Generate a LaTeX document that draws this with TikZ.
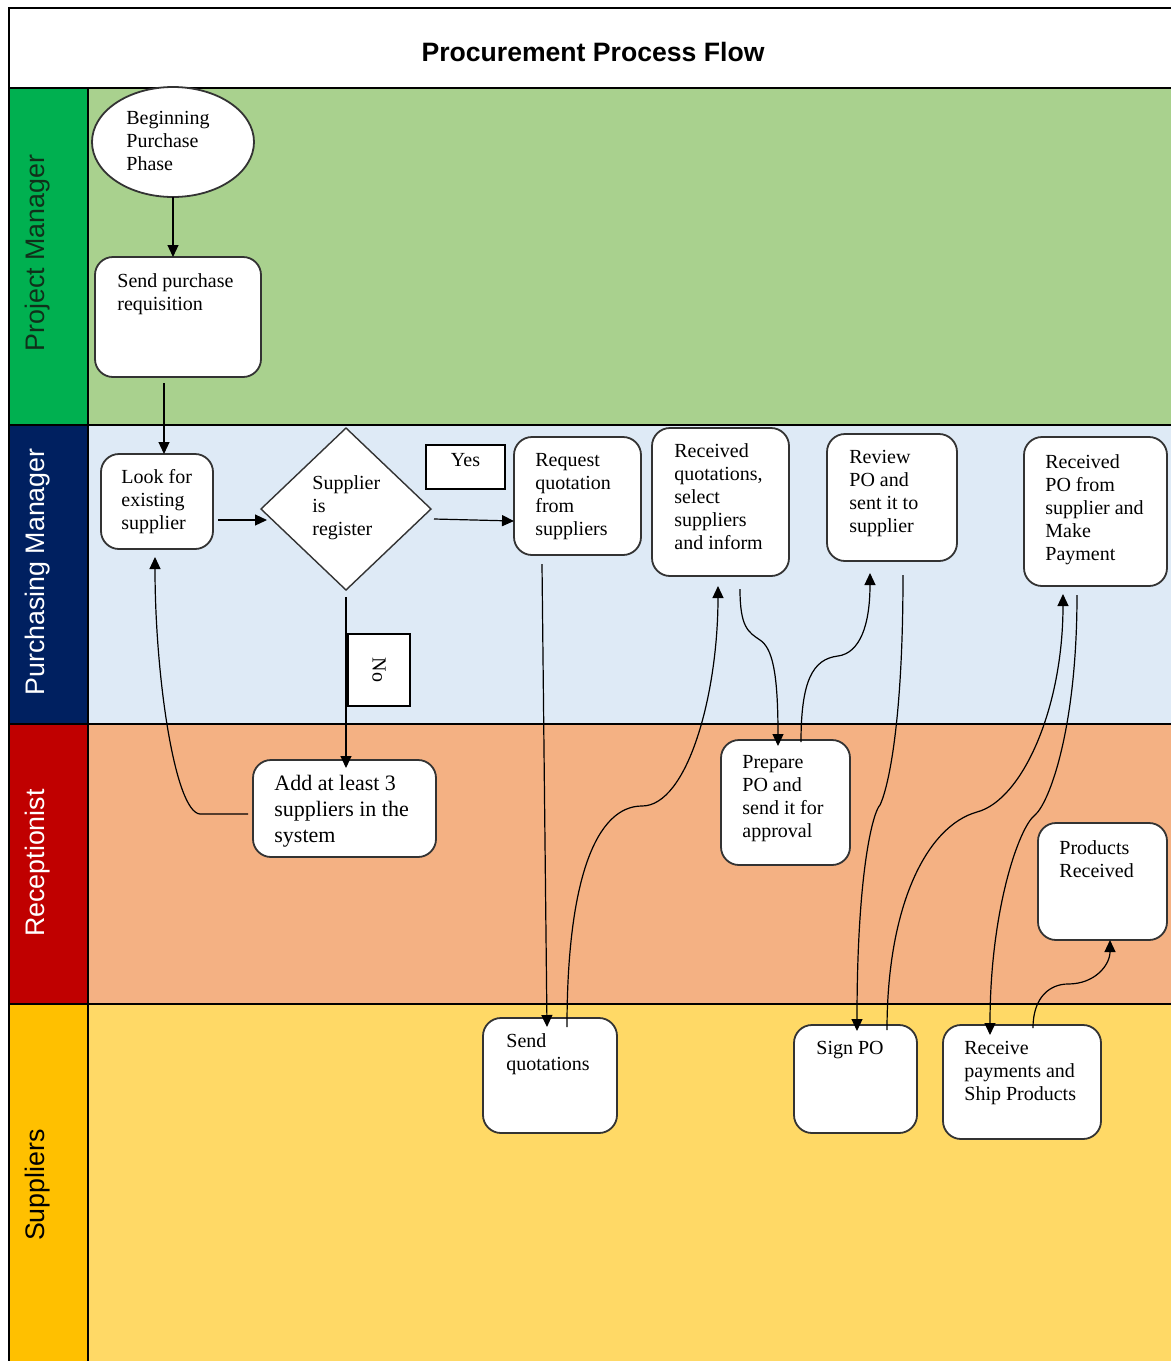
\documentclass[tikz,border=0pt]{standalone}
\usepackage{fontspec}
\setmainfont{Liberation Serif}
\newfontfamily\lanefont{Liberation Sans}
\usetikzlibrary{arrows.meta,calc,fit,shapes.geometric}

\definecolor{pmLabel}{HTML}{00B050}
\definecolor{pmLane}{HTML}{A9D18E}
\definecolor{pmText}{HTML}{10301A}
\definecolor{purLabel}{HTML}{002060}
\definecolor{purLane}{HTML}{DEEAF6}
\definecolor{recLabel}{HTML}{C00000}
\definecolor{recLane}{HTML}{F4B183}
\definecolor{supLabel}{HTML}{FFC000}
\definecolor{supLane}{HTML}{FFD966}
\definecolor{boxEdge}{HTML}{333333}

\begin{document}
\begin{tikzpicture}[x=0.5pt,y=-0.5pt,
  lanerule/.style={line width=0.8pt, draw=black},
  stepbox/.style={draw=boxEdge, line width=0.9pt, fill=white, rounded corners=9pt, inner sep=0pt, outer sep=0pt},
  tagbox/.style={draw=black, line width=0.7pt, fill=white, inner sep=0pt, outer sep=0pt},
  bodyfont/.style={font=\fontsize{10}{11.5}\selectfont},
  txt/.style={anchor=north west, align=left, inner sep=0pt, bodyfont},
  lanelabel/.style={rotate=90, inner sep=0pt, font=\lanefont\fontsize{13.4}{16}\selectfont},
  flow/.style={line width=0.6pt, -{Triangle[length=6pt,width=5.5pt]}},
]
\useasboundingbox (0,0) rectangle (1171,1361);
\fill[white] (0,0) rectangle (1171,1361);

% swimlane backgrounds
\fill[pmLane]  (88,88)   rectangle (1171,425);
\fill[purLane] (88,425)  rectangle (1171,724);
\fill[recLane] (88,724)  rectangle (1171,1004);
\fill[supLane] (88,1004) rectangle (1171,1361);
\fill[pmLabel]  (9,88)   rectangle (88,425);
\fill[purLabel] (9,425)  rectangle (88,724);
\fill[recLabel] (9,724)  rectangle (88,1004);
\fill[supLabel] (9,1004) rectangle (88,1361);

% frame and lane separators
\draw[lanerule] (1171,8) -- (9,8) -- (9,1361);
\draw[lanerule] (9,88) -- (1171,88);
\draw[lanerule] (9,425) -- (1171,425);
\draw[lanerule] (9,724) -- (1171,724);
\draw[lanerule] (9,1004) -- (1171,1004);
\draw[lanerule] (88,88) -- (88,1361);

% title and lane names
\node[font=\lanefont\bfseries\fontsize{13.3}{16}\selectfont] (title) at (593,52) {Procurement Process Flow};
\node[lanelabel, text=pmText] (lane-pm) at (38,253) {Project Manager};
\node[lanelabel, text=white] (lane-pur) at (38,572) {Purchasing Manager};
\node[lanelabel, text=white] (lane-rec) at (38,863) {Receptionist};
\node[lanelabel, text=black] (lane-sup) at (38,1185) {Suppliers};

% process shapes
\node[ellipse, draw=boxEdge, line width=0.9pt, fill=white, minimum width=81pt, minimum height=55pt, inner sep=0pt, outer sep=0pt] (ell) at (173,142) {};
\node[stepbox, fit={(95,257) (261,377)}] (spr) {};
\node[stepbox, fit={(101,454) (213,549)}] (look) {};
\node[diamond, draw=boxEdge, line width=0.7pt, fill=white, minimum width=85pt, minimum height=81pt, inner sep=0pt, outer sep=0pt] (dia) at (346,509) {};
\node[tagbox, fit={(426,445) (505,489)}, bodyfont] (yes) {Yes};
\node[tagbox, fit={(348,634) (410,706)}] (no) {};
\node[rotate=-90, inner sep=0pt, bodyfont] (no-t) at (no.center) {No};
\node[stepbox, fit={(514,437) (641,555)}] (req) {};
\node[stepbox, fit={(652,428) (789,576)}] (rq) {};
\node[stepbox, fit={(827,434) (957,561)}] (rv) {};
\node[stepbox, fit={(1024,437) (1167,586)}] (rpo) {};
\node[stepbox, fit={(253,760) (436,857)}] (add) {};
\node[stepbox, fit={(721,740) (850,865)}] (pp) {};
\node[stepbox, fit={(1038,823) (1167,940)}] (prod) {};
\node[stepbox, fit={(483,1018) (617,1133)}] (sq) {};
\node[stepbox, fit={(794,1025) (917,1133)}] (sp) {};
\node[stepbox, fit={(943,1025) (1101,1139)}] (rsp) {};

% texts inside the shapes
\node[txt] (ell-t)  at (126,111) {Beginning\\Purchase\\Phase};
\node[txt] (spr-t)  at (117,273) {Send purchase\\requisition};
\node[txt] (look-t) at (121,469) {Look for\\existing\\supplier};
\node[txt] (dia-t)  at (312,475) {Supplier\\is\\register};
\node[txt] (req-t)  at (535,453) {Request\\quotation\\from\\suppliers};
\node[txt] (rq-t)   at (674,443) {Received\\quotations,\\select\\suppliers\\and inform};
\node[txt] (rv-t)   at (849,450) {Review\\PO and\\sent it to\\supplier};
\node[txt] (rpo-t)  at (1045,454) {Received\\PO from\\supplier and\\Make\\Payment};
\node[txt, font=\fontsize{11}{13}\selectfont] (add-t) at (274,775) {Add at least 3\\suppliers in the\\system};
\node[txt] (pp-t)   at (742,755) {Prepare\\PO and\\send it for\\approval};
\node[txt] (prod-t) at (1059,840) {Products\\Received};
\node[txt] (sq-t)   at (506,1033) {Send\\quotations};
\node[txt] (sp-t)   at (816,1041) {Sign PO};
\node[txt] (rsp-t)  at (964,1041) {Receive\\payments and\\Ship Products};

% connectors
\draw[flow] (ell.south) -- (ell.south |- spr.north);
\draw[flow] ($(spr.south)+(-14,6)$) -- ($(look.north)+(7,0)$);
\draw[flow] ($(look.east)+(5,18.5)$) -- ($(dia.west)+(6,11)$);
\draw[flow] ($(dia.east)+(3,10)$) -- ($(req.west)+(0,25)$);
\draw[flow] ($(dia.south)+(0,7)$) -- ($(add.north)+(1.5,8)$);
\draw[flow] ($(add.west)+(-5,5.5)$) -- ++(-48,0)
  .. controls +(-25,-2) and +(0,120) .. ($(look.south)+(-2,8)$);
\draw[flow] ($(req.south)+(-35.5,9)$) -- ($(sq.north)+(-3,9)$);

% curved hand-offs between lanes, each bending once on the way
\coordinate (sq-out) at ($(sq.north)+(17,9)$);
\draw[flow] (sq-out) .. controls +(0,-150) and +(-45,0) .. ($(sq-out)+(75,-221)$)
  .. controls +(45,0) and +(0,110) .. ($(rq.south)+(-2.5,10)$);

\coordinate (rq-out) at ($(rq.south)+(19.5,13)$);
\draw[flow] (rq-out) .. controls +(0,38) and +(-12,-8) .. ($(rq-out)+(20,51)$)
  .. controls +(12,8) and +(0,-75) .. ($(pp.north)+(-7.5,6)$);

\coordinate (pp-out) at ($(pp.north)+(15.5,2)$);
\draw[flow] (pp-out) .. controls +(0,-62) and +(-25,3) .. ($(pp-out)+(37,-86)$)
  .. controls +(22,-3) and +(0,52) .. ($(rv.south)+(-22,12)$);

\coordinate (rv-out) at ($(rv.south)+(11,14)$);
\draw[flow] (rv-out) .. controls +(0,160) and +(6,-12) .. ($(rv-out)+(-23,230)$)
  .. controls +(-7,7) and +(0,-160) .. ($(sp.north)+(1.5,6)$);

\coordinate (sp-out) at ($(sp.north)+(31.5,5)$);
\draw[flow] (sp-out) .. controls +(0,-125) and +(-50,14) .. ($(sp-out)+(90,-218)$)
  .. controls +(45,-12) and +(0,115) .. ($(rpo.south)+(-32.5,8)$);

\coordinate (rpo-out) at ($(rpo.south)+(-18.5,9)$);
\draw[flow] (rpo-out) .. controls +(0,135) and +(14,-12) .. ($(rpo-out)+(-42,220)$)
  .. controls +(-16,12) and +(0,-125) .. ($(rsp.north)+(-32,10)$);

\coordinate (rsp-out) at ($(rsp.north)+(11,3)$);
\draw[flow] (rsp-out) .. controls +(0,-32) and +(-17,0) .. ($(rsp-out)+(35,-44)$)
  .. controls +(27,0) and +(0,25) .. ($(prod.south)+(7.5,0)$);
\end{tikzpicture}
\end{document}
